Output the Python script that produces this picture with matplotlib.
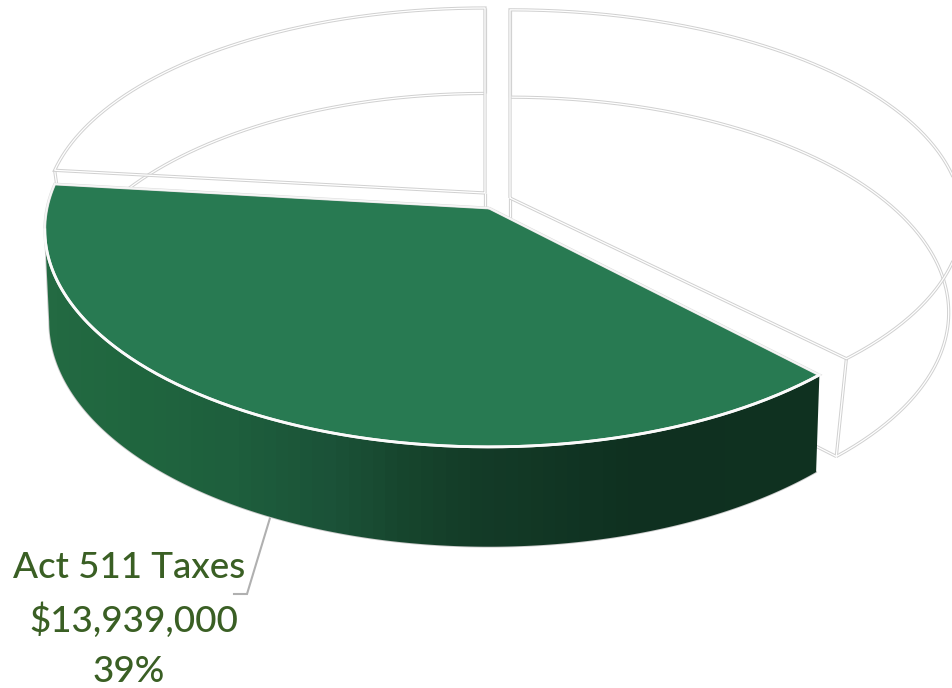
import numpy as np
import matplotlib
matplotlib.use("Agg")
import matplotlib.pyplot as plt
from matplotlib.colors import LinearSegmentedColormap
from matplotlib.patches import Polygon

# Revenue shares in percent, clockwise from twelve o'clock
slice_names = ["Other Revenue", "Act 511 Taxes", "Other Sources"]
slice_shares = [37.8, 39.0, 23.2]
label_lines = ["Act 511 Taxes", "$13,939,000", "39%"]

GREEN_TOP = "#287a52"
LABEL_GREEN = "#3a5f24"
RIM_GREY = "#d0d0d0"

# Projection of each extruded wedge: apex, radii, perspective, floor offset
wedge_geometry = {
    "Other Revenue": dict(cx=510, cy=198, a=450, b=207, sx=0.97, sy=1.03, drop=93),
    "Act 511 Taxes": dict(cx=489, cy=208, a=442, b=215, sx=0.99, sy=1.037, drop=91),
    "Other Sources": dict(cx=485, cy=193, a=438, b=203.5, sx=0.97, sy=1.03, drop=91),
}
PERSPECTIVE = 0.1


def project(g, deg, floor=False):
    t = np.radians(np.asarray(deg, dtype=float))
    den = 1 + PERSPECTIVE * np.sin(t)
    x, y = g["a"] * np.cos(t) / den, g["b"] * np.sin(t) / den
    if floor:
        return g["cx"] + g["sx"] * x, g["cy"] + g["drop"] - g["sy"] * y
    return g["cx"] + x, g["cy"] - y


def rim(ax, x, y, z, closed=False, grey=RIM_GREY, core="white", wide=2.3, thin=0.9):
    """Double rule: a grey line with a white core."""
    if closed:
        x, y = np.r_[x, x[0]], np.r_[y, y[0]]
    ax.plot(x, y, color=grey, lw=wide, zorder=z, solid_joinstyle="miter", solid_capstyle="butt")
    ax.plot(x, y, color=core, lw=thin, zorder=z + 0.01, solid_joinstyle="miter", solid_capstyle="butt")


fig = plt.figure(figsize=(9.52, 6.88), dpi=100)
ax = fig.add_axes([0, 0, 1, 1])
ax.set_xlim(0, 952)
ax.set_ylim(688, 0)
ax.axis("off")

spans = np.cumsum([0] + slice_shares) * 3.6
for name, share, s0, s1 in zip(slice_names, slice_shares, spans[:-1], spans[1:]):
    g = wedge_geometry[name]
    arc = 90 - np.linspace(s0, s1, 240)
    tx, ty = project(g, arc)
    bx, by = project(g, arc, floor=True)
    ax0, ay0 = g["cx"], g["cy"]
    fx0, fy0 = g["cx"], g["cy"] + g["drop"]

    if name == "Act 511 Taxes":
        # The wall runs from the right edge round to the silhouette on the left,
        # where the top and floor arcs are furthest out.
        sweep = 90 - np.linspace(s0, 271, 240)
        wx, wy = project(g, sweep)
        fx, fy = project(g, sweep, floor=True)
        i_top, i_floor = int(np.argmin(wx)), int(np.argmin(fx))
        wall_x = np.r_[wx[:i_top + 1], fx[:i_floor + 1][::-1]]
        wall_y = np.r_[wy[:i_top + 1], fy[:i_floor + 1][::-1]]
        wall = Polygon(np.c_[wall_x, wall_y], closed=True, fc="none", ec="none", zorder=5)
        ax.add_patch(wall)
        shade = LinearSegmentedColormap.from_list("wall", [
            (0.00, "#236a42"), (0.11, "#20663f"), (0.24, "#1e5f3d"), (0.366, "#1b5238"),
            (0.46, "#17462e"), (0.55, "#143c28"), (0.77, "#0f3020"), (1.00, "#103220")], N=64)
        img = ax.imshow(np.linspace(0, 1, 256)[None, :], cmap=shade, aspect="auto",
                        extent=(45, 822, 688, 0), zorder=5)
        img.set_clip_path(wall)
        ax.set_xlim(0, 952)
        ax.set_ylim(688, 0)
        # Outer silhouette of the wall
        ax.plot(wall_x, wall_y, color="#cccccc", lw=1.3, zorder=4.9)
        # Top face with its light edge; the front arc reads as plain white
        ax.fill(np.r_[ax0, tx], np.r_[ay0, ty], color=GREEN_TOP, lw=0, zorder=6)
        rim(ax, np.r_[ax0, tx], np.r_[ay0, ty], 7, closed=True, grey="#dcdcdc", core="#f6f6f6",
            wide=2.0, thin=1.3)
        ax.plot(wx[:i_top + 1], wy[:i_top + 1], color="#fbfbfb", lw=2.0, zorder=7.5)
    else:
        rim(ax, bx, by, 2)
        rim(ax, [bx[0 if name == "Other Sources" else -1], fx0],
            [by[0 if name == "Other Sources" else -1], fy0], 2)
        rim(ax, [ax0, ax0], [ay0, fy0], 2)
        rim(ax, [tx[0], bx[0]], [ty[0], by[0]], 2)
        rim(ax, [tx[-1], bx[-1]], [ty[-1], by[-1]], 2)
        rim(ax, np.r_[ax0, tx], np.r_[ay0, ty], 3, closed=True)

# Leader from the wedge to its label
ax.plot([270, 247, 234], [518, 594, 594], color="#b0b0b0", lw=1.5, zorder=4,
        solid_joinstyle="miter")

label_centres = [(129, 567), (134, 620), (129, 671)]
for line, (lx, ly) in zip(label_lines, label_centres):
    ax.text(lx, ly, line, color=LABEL_GREEN, fontsize=26.5, family="Lato", weight="medium",
            ha="center", va="center", zorder=8)

fig.savefig("out.png", dpi=100)
